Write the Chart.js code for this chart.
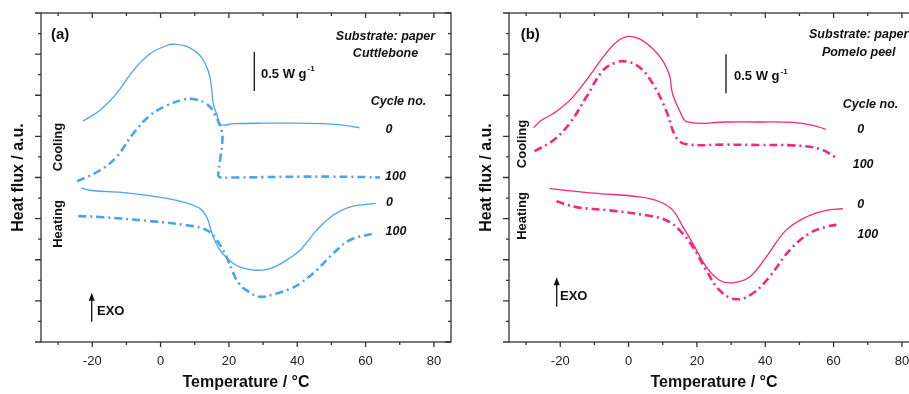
<!DOCTYPE html>
<html>
<head>
<meta charset="utf-8">
<script src="https://cdn.jsdelivr.net/npm/chart.js@4.4.1/dist/chart.umd.min.js"></script>
<style>
  html, body { margin: 0; padding: 0; background: #fff; overflow: hidden; width: 909px; height: 394px; }
  canvas { position: absolute; top: 0; }
  #chart-a { left: 0; }
  #chart-b { left: 468px; }
</style>
</head>
<body>
<canvas id="chart-a" width="455" height="394"></canvas>
<canvas id="chart-b" width="455" height="394"></canvas>
<script>
  const FONT = "'Liberation Sans', Arial, sans-serif";
  const AXIS_COLOR = "#333";
  const BLUE = "#4aa3f7";
  const PINK = "#f5267f";

  const X_MIN = -35;
  const X_MAX = 85;
  const xTicks = [-20, 0, 20, 40, 60, 80];
  const xMinorTicks = [-30, -10, 10, 30, 50, 70];
  const yTicks = [0, 1, 2, 3, 4, 5, 6, 7, 8];
  const yMinorTicks = [0.5, 1.5, 2.5, 3.5, 4.5, 5.5, 6.5, 7.5];

  // panel (a), cuttlebone, [temperature, heat flux a.u.]
  const coolingA0 = [[-22.7, 5.37], [-17.8, 5.63], [-12.9, 6.04], [-8.0, 6.60], [-3.1, 7.01], [1.8, 7.21], [3.7, 7.24], [7.6, 7.19], [11.5, 6.97], [13.9, 6.60], [14.9, 6.20], [15.4, 5.79], [16.4, 5.55], [17.6, 5.29], [21.3, 5.31], [30.0, 5.32], [40.8, 5.32], [50.5, 5.30], [55.4, 5.25], [58.2, 5.21]];
  const coolingA100 = [[-24.4, 3.91], [-17.8, 4.17], [-12.9, 4.50], [-8.0, 5.07], [-3.1, 5.51], [1.8, 5.75], [6.6, 5.89], [9.5, 5.91], [13.5, 5.79], [15.8, 5.55], [17.8, 5.15], [18.1, 4.90], [17.4, 4.42], [16.9, 4.09], [17.2, 4.01], [21.3, 4.00], [30.0, 4.01], [40.8, 4.02], [50.0, 4.02], [60.3, 4.01], [64.2, 4.00]];
  const heatingA0 = [[-23.2, 3.75], [-20.7, 3.69], [-8.0, 3.61], [1.8, 3.49], [7.6, 3.38], [11.5, 3.25], [13.5, 3.04], [15.4, 2.56], [17.4, 2.23], [19.5, 2.04], [21.3, 1.91], [24.0, 1.80], [27.1, 1.75], [31.0, 1.76], [34.0, 1.85], [36.9, 1.99], [40.8, 2.23], [45.7, 2.72], [50.5, 3.08], [55.4, 3.28], [63.0, 3.37]];
  const heatingA100 = [[-24.1, 3.06], [-17.8, 3.04], [-3.1, 2.94], [7.6, 2.84], [13.5, 2.72], [16.4, 2.48], [19.3, 2.07], [21.3, 1.67], [23.0, 1.42], [25.1, 1.26], [29.1, 1.10], [33.9, 1.18], [37.5, 1.28], [40.8, 1.42], [45.7, 1.75], [50.5, 2.15], [55.4, 2.48], [63.0, 2.65]];

  // panel (b), pomelo peel
  const coolingB0 = [[-27.8, 5.21], [-25.5, 5.39], [-22.1, 5.55], [-17.3, 5.87], [-12.4, 6.36], [-7.5, 6.92], [-3.6, 7.29], [-0.2, 7.43], [3.2, 7.37], [7.1, 7.13], [10.0, 6.84], [12.0, 6.48], [12.5, 6.20], [13.0, 6.00], [14.9, 5.63], [17.2, 5.35], [28.6, 5.35], [38.0, 5.35], [48.0, 5.34], [53.9, 5.27], [57.8, 5.17]];
  const coolingB100 = [[-27.5, 4.64], [-22.1, 4.90], [-17.3, 5.31], [-12.4, 5.95], [-7.5, 6.60], [-3.6, 6.80], [-0.7, 6.82], [3.2, 6.68], [7.1, 6.28], [11.0, 5.63], [13.9, 4.98], [16.9, 4.81], [28.6, 4.80], [38.0, 4.79], [48.0, 4.78], [55.8, 4.70], [60.5, 4.50]];
  const heatingB0 = [[-23.1, 3.73], [-10.4, 3.62], [3.2, 3.53], [9.1, 3.41], [13.0, 3.20], [15.9, 2.80], [18.8, 2.40], [22.7, 1.83], [26.6, 1.50], [30.5, 1.44], [35.4, 1.58], [40.3, 2.07], [46.1, 2.72], [52.0, 3.04], [57.8, 3.20], [62.7, 3.24]];
  const heatingB100 = [[-21.1, 3.42], [-15.3, 3.28], [-5.6, 3.20], [5.2, 3.08], [11.0, 2.96], [14.9, 2.72], [18.8, 2.31], [22.7, 1.75], [26.6, 1.26], [31.5, 1.04], [36.3, 1.18], [41.2, 1.58], [47.1, 2.23], [52.9, 2.64], [57.8, 2.80], [61.7, 2.86]];

  const cycleLabels = ["0", "100", "0", "100"];

  function drawText(ctx, str, x, y, font, align = "left", rotate = 0) {
    ctx.save();
    ctx.translate(x, y);
    if (rotate) ctx.rotate(rotate);
    ctx.font = font;
    ctx.fillStyle = "#111";
    ctx.textAlign = align;
    ctx.textBaseline = "middle";
    ctx.fillText(str, 0, 0);
    ctx.restore();
  }

  const framePlugin = {
    id: "frame",
    beforeDatasetsDraw(chart) {
      const { ctx, chartArea: a, scales: { x, y } } = chart;
      ctx.save();
      ctx.strokeStyle = AXIS_COLOR;
      ctx.lineWidth = 1.3;
      ctx.strokeRect(a.left, a.top, a.right - a.left, a.bottom - a.top);
      ctx.beginPath();
      const xTick = (v, len) => {
        const px = x.getPixelForValue(v);
        ctx.moveTo(px, a.bottom); ctx.lineTo(px, a.bottom + len);
        ctx.moveTo(px, a.top); ctx.lineTo(px, a.top + len);
      };
      const yTick = (v, len) => {
        const py = y.getPixelForValue(v);
        ctx.moveTo(a.left - len, py); ctx.lineTo(a.left, py);
        ctx.moveTo(a.right - len, py); ctx.lineTo(a.right, py);
      };
      xTicks.forEach((v) => xTick(v, 5));
      xMinorTicks.forEach((v) => xTick(v, 3));
      yTicks.forEach((v) => yTick(v, 6));
      yMinorTicks.forEach((v) => yTick(v, 3));
      ctx.stroke();
      ctx.restore();
    },
  };

  const notesPlugin = {
    id: "notes",
    afterDatasetsDraw(chart, args, n) {
      const { ctx } = chart;
      const bi = `italic bold 12.5px ${FONT}`;
      drawText(ctx, n.label, n.labelPos[0], n.labelPos[1], `bold 15px ${FONT}`);
      drawText(ctx, "Substrate: paper", n.subX, n.subY[0], bi, "center");
      drawText(ctx, n.sample, n.subX, n.subY[1], bi, "center");

      ctx.save();
      ctx.strokeStyle = "#111";
      ctx.lineWidth = 1.3;
      ctx.beginPath();
      ctx.moveTo(n.bar[0], n.bar[1]);
      ctx.lineTo(n.bar[0], n.bar[2]);
      ctx.stroke();
      ctx.restore();
      const main = "0.5 W g";
      ctx.font = `bold 13px ${FONT}`;
      const w = ctx.measureText(main).width;
      drawText(ctx, main, n.barText[0], n.barText[1], `bold 13px ${FONT}`);
      drawText(ctx, "-1", n.barText[0] + w + 1, n.barText[1] - 5, `bold 8px ${FONT}`);

      drawText(ctx, "Cycle no.", n.cycleHead[0], n.cycleHead[1], `italic bold 12.5px ${FONT}`, "center");
      cycleLabels.forEach((lab, i) => {
        const [cx, cy] = n.cycles[i];
        drawText(ctx, lab, cx, cy, `italic bold 12.5px ${FONT}`);
      });

      drawText(ctx, "Cooling", n.cooling[0], n.cooling[1], `bold 13px ${FONT}`, "center", -Math.PI / 2);
      drawText(ctx, "Heating", n.heating[0], n.heating[1], `bold 13px ${FONT}`, "center", -Math.PI / 2);

      const [ax, ayTop, ayBot, tx, ty] = n.exo;
      ctx.save();
      ctx.strokeStyle = "#111";
      ctx.fillStyle = "#111";
      ctx.lineWidth = 1.3;
      ctx.beginPath();
      ctx.moveTo(ax, ayBot);
      ctx.lineTo(ax, ayTop + 5);
      ctx.stroke();
      ctx.beginPath();
      ctx.moveTo(ax, ayTop);
      ctx.lineTo(ax - 3, ayTop + 8);
      ctx.lineTo(ax + 3, ayTop + 8);
      ctx.closePath();
      ctx.fill();
      ctx.restore();
      drawText(ctx, "EXO", tx, ty, `bold 13px ${FONT}`);
    },
  };

  function makeChart(id, color, series, notes) {
    return new Chart(document.getElementById(id), {
      type: "scatter",
      data: {
        datasets: series.map(([points, dashed]) => ({
          data: points.map(([x, y]) => ({ x, y })),
          showLine: true,
          borderColor: color,
          borderWidth: dashed ? 2.6 : 1.3,
          borderDash: dashed ? [8, 4, 2, 4] : [],
          pointRadius: 0,
          tension: 0.4,
          fill: false,
        })),
      },
      options: {
        responsive: false,
        animation: false,
        layout: { padding: { top: 13, right: 4, left: 0, bottom: 0 } },
        plugins: { legend: { display: false }, tooltip: { enabled: false }, notes },
        scales: {
          x: {
            type: "linear",
            min: X_MIN,
            max: X_MAX,
            afterBuildTicks: (s) => { s.ticks = xTicks.map((value) => ({ value })); },
            afterFit: (s) => { s.height = 52; },
            grid: { display: false },
            border: { display: false },
            ticks: { color: "#222", font: { size: 13, family: FONT }, padding: 4, maxRotation: 0 },
            title: {
              display: true,
              text: "Temperature / °C",
              color: "#111",
              font: { size: 16, weight: "bold", family: FONT },
              padding: { top: 0, bottom: 2 },
            },
          },
          y: {
            type: "linear",
            min: 0,
            max: 8,
            afterFit: (s) => { s.width = 41; },
            grid: { display: false },
            border: { display: false },
            ticks: { display: false },
            title: {
              display: true,
              text: "Heat flux / a.u.",
              color: "#111",
              font: { size: 16, weight: "bold", family: FONT },
              padding: { top: 9, bottom: 0 },
            },
          },
        },
      },
      plugins: [framePlugin, notesPlugin],
    });
  }

  makeChart("chart-a", BLUE, [[coolingA0, false], [coolingA100, true], [heatingA0, false], [heatingA100, true]], {
    label: "(a)", labelPos: [51, 35],
    sample: "Cuttlebone", subX: 385.5, subY: [37, 54],
    bar: [254.3, 51.7, 91], barText: [261, 74],
    cycleHead: [398.5, 102],
    cycles: [[385.5, 129.3], [385, 176.7], [386, 202.7], [385.5, 231.7]],
    cooling: [58.5, 147], heating: [58.5, 224],
    exo: [91.7, 292.7, 321.7, 97, 311],
  });

  makeChart("chart-b", PINK, [[coolingB0, false], [coolingB100, true], [heatingB0, false], [heatingB100, true]], {
    label: "(b)", labelPos: [52.7, 35],
    sample: "Pomelo peel", subX: 390.7, subY: [35, 52.7],
    bar: [258, 54.3, 93.3], barText: [266, 76.7],
    cycleHead: [402.5, 105],
    cycles: [[389.3, 130], [384.7, 165], [389.3, 205], [389.3, 234.3]],
    cooling: [54, 144], heating: [54, 216],
    exo: [88.7, 277.3, 306.7, 92, 296.7],
  });
</script>
</body>
</html>
